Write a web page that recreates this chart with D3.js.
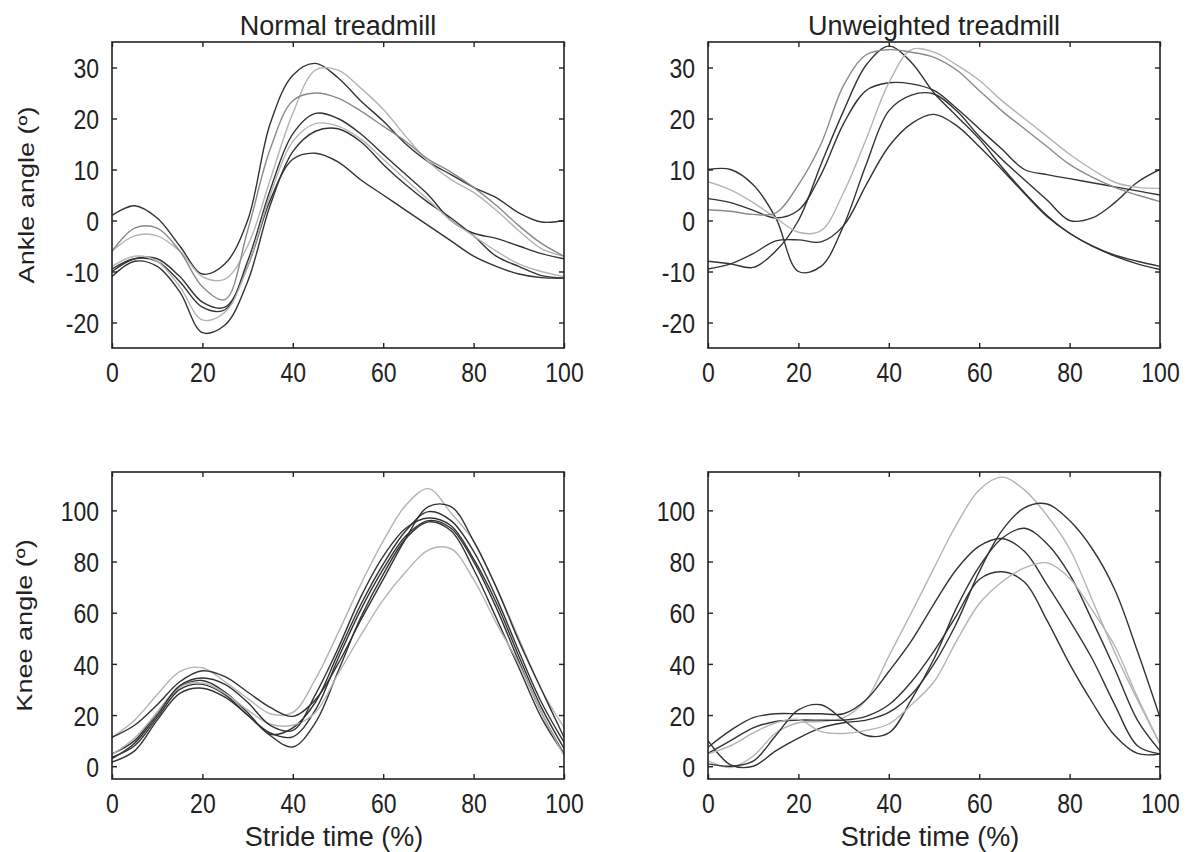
<!DOCTYPE html>
<html>
<head>
<meta charset="utf-8">
<script src="https://cdn.jsdelivr.net/npm/d3@7"></script>
<style>
  body { margin: 0; background: #fff; }
  svg { display: block; }
</style>
</head>
<body>
<div id="chart"></div>
<script>
// stride time samples (%), every 5 %
var stride = [0, 5, 10, 15, 20, 25, 30, 35, 40, 45, 50, 55, 60, 65, 70, 75, 80, 85, 90, 95, 100];
var strideTicks = [0, 20, 40, 60, 80, 100];
var ankleTicks = [-20, -10, 0, 10, 20, 30];
var kneeTicks = [0, 20, 40, 60, 80, 100];

var titles = ["Normal treadmill", "Unweighted treadmill"];
var yLabels = ["Ankle angle (\u00ba)", "Knee angle (\u00ba)"];
var xLabel = "Stride time (%)";

// Normal treadmill - ankle angle, one array per subject
var normalAnkle = [
  [1, 2.9, 0.5, -5, -10.5, -8.5, 0, 19, 28.5, 30.8, 28, 23.5, 19.5, 15, 11.5, 9, 6.5, 4.5, 1.5, -0.3, 0],
  [-6, -3, -3, -6, -11, -11.5, -5, 8, 21, 29.5, 29.5, 26, 21.8, 16.5, 11.5, 8, 5.5, 2, -2, -5.5, -7],
  [-6, -1.5, -1.5, -6, -13, -15.5, -2, 14, 23.5, 25, 24, 21.5, 18.5, 15.5, 12, 9.5, 6.5, 3, -1, -4.5, -7],
  [-9.5, -7.5, -8, -12, -17, -17.5, -8, 6, 17, 21, 20, 17, 13, 9, 5, 0, -2.5, -3.5, -5, -6.5, -7.5],
  [-11, -8, -9, -14, -22, -20.5, -12, 3, 13.5, 17.5, 18, 15.5, 11, 7, 3.5, 0.5, -3, -7, -9, -10.8, -11.3],
  [-10, -7.5, -7.5, -11, -16, -17, -9, 4, 12, 13.2, 11.5, 8, 5, 2, -1, -4, -7, -9, -10.5, -11.2, -11.3],
  [-9, -7, -8, -13, -19.5, -18, -9, 5, 15.5, 19, 18.5, 16, 12, 8, 4, 0, -3, -6, -8.5, -10, -11]
];
var normalAnkleTone = ["dark", "light", "mid", "dark", "dark", "dark", "light"];

// Unweighted treadmill - ankle angle
var unweightedAnkle = [
  [10, 10, 7, 0.5, -10, -9, -1, 11, 21.5, 24.6, 24.8, 21.5, 16.5, 12, 8, 4, 0, 0.5, 3.5, 7.5, 10],
  [-8, -8.5, -9.2, -6, 0, 11, 21.5, 30.5, 34.2, 31, 25, 20.5, 16, 10.5, 5.5, 1, -2.5, -5, -7, -8.5, -9.6],
  [4.3, 3.5, 2, 0.5, 2, 9, 19, 25.5, 27, 26.8, 25.5, 22, 18, 14, 10, 9, 8.2, 7.4, 6.6, 5.8, 5],
  [7.6, 6, 3.5, 0.5, -2.3, -2, 5.5, 16, 27, 33.5, 33, 30.5, 27.5, 23.5, 20, 16.5, 13, 10, 7.5, 6.5, 6.3],
  [2.1, 1.8, 1.2, 1.5, 7, 15, 26.5, 32.5, 33.5, 33, 32, 29.5, 25.5, 21.5, 18, 14.5, 11, 8.5, 6.5, 5, 3.7],
  [-9.5, -8.5, -6.5, -4, -3.8, -4.2, -1, 7, 14.5, 19, 20.8, 18.6, 14.5, 10, 5.3, 0.8, -2.5, -5, -6.8, -8, -9]
];
var unweightedAnkleTone = ["dark", "dark", "dark", "light", "mid", "dark"];

// Normal treadmill - knee angle
var normalKnee = [
  [11.3, 18, 28, 37, 38.5, 33, 26.5, 20.5, 21, 34, 52, 71, 88, 102, 108.5, 99, 88, 70, 50, 30, 15.2],
  [11.3, 16, 24, 33, 37.3, 35, 29, 23, 19.5, 26, 40, 57, 73, 89, 101.5, 101.5, 88, 70, 49, 30, 11.3],
  [4.8, 10, 21, 31, 33.5, 29, 21, 12.5, 15, 25, 44, 63, 79, 92, 99.5, 96, 84, 66, 45, 25, 9.4],
  [3.5, 8, 19, 30, 32, 28, 20, 13, 11.5, 22, 42, 61, 77, 90, 96, 93, 80, 62, 41, 21, 4.8],
  [1.6, 6, 18, 28.5, 30.5, 27, 20, 12, 7.5, 17, 37, 58, 75, 89, 95.5, 92, 77, 58, 38.6, 19, 4.8],
  [4.5, 11, 21, 31, 32.5, 28.5, 22, 16.5, 16, 21, 36, 51, 65, 76, 84.5, 85, 73, 56, 40, 21, 4.2],
  [3, 9, 20, 31.5, 34.5, 32, 25, 16, 14, 28, 46, 66, 82, 93, 97, 94, 81, 64, 43, 23, 7]
];
var normalKneeTone = ["light", "dark", "dark", "dark", "dark", "light", "dark"];

// Unweighted treadmill - knee angle
var unweightedKnee = [
  [2.2, -0.5, 4, 13, 17, 17.5, 19, 26, 43, 60, 77.5, 94.5, 108, 113, 108, 98, 85, 65, 44.5, 26, 8.7],
  [7.4, 14, 19, 20.5, 20.5, 20.5, 20.5, 26, 37, 49, 63.5, 77, 86, 89, 84, 71, 57, 42, 24, 8, 4.8],
  [5, 10, 15, 17.5, 18, 18, 18, 19.5, 24, 33, 45, 59, 73, 76, 72, 57, 40, 25, 12, 5, 4.8],
  [0.9, 0, 2, 12, 22, 24, 18, 12, 13, 26, 42, 62, 78, 89, 93, 87, 75, 57, 38, 18, 6],
  [10, 0.5, 0, 6, 11, 15, 17, 18, 21, 28, 40, 56, 76, 92, 101, 102.5, 96, 85, 69, 45, 19],
  [4.8, 8, 13, 17, 18.3, 13.5, 12.8, 14, 16.5, 24, 33, 49, 63.5, 72, 77.5, 79.5, 73.5, 61, 47, 27, 8.7]
];
var unweightedKneeTone = ["light", "dark", "dark", "dark", "dark", "light"];

var svgWidth = 1190;
var svgHeight = 852;

var toneColor = { dark: "#333333", mid: "#8a8a8a", light: "#b4b4b4" };
var cols = [{ left: 112, right: 564 }, { left: 708, right: 1160 }];
var rows = [{ top: 42, bottom: 348 }, { top: 472, bottom: 779 }];

var textFont = "'Liberation Sans', Arial, sans-serif";
var stretch = 1.23; // glyphs in the figure are drawn taller than wide

var svg = d3.select("#chart")
  .append("svg")
  .attr("width", svgWidth)
  .attr("height", svgHeight);

svg.append("rect")
  .attr("width", svgWidth)
  .attr("height", svgHeight)
  .attr("fill", "#fff");

var panels = [
  { row: 0, col: 0, data: normalAnkle, tone: normalAnkleTone, domain: [-25, 35], ticks: ankleTicks },
  { row: 0, col: 1, data: unweightedAnkle, tone: unweightedAnkleTone, domain: [-25, 35], ticks: ankleTicks },
  { row: 1, col: 0, data: normalKnee, tone: normalKneeTone, domain: [-5, 115], ticks: kneeTicks },
  { row: 1, col: 1, data: unweightedKnee, tone: unweightedKneeTone, domain: [-5, 115], ticks: kneeTicks }
];

panels.forEach(function(p, i) {
  var c = cols[p.col], r = rows[p.row];
  var w = c.right - c.left, h = r.bottom - r.top;

  var xScale = d3.scaleLinear().domain([0, 100]).range([0, w]);
  var yScale = d3.scaleLinear().domain(p.domain).range([h, 0]);

  var g = svg.append("g")
    .attr("transform", `translate(${c.left}, ${r.top})`);

  g.append("clipPath")
    .attr("id", "clip" + i)
    .append("rect")
    .attr("width", w)
    .attr("height", h);

  // curves
  var line = d3.line()
    .x(function(d, k) { return xScale(stride[k]); })
    .y(function(d) { return yScale(d); })
    .curve(d3.curveCatmullRom.alpha(0.5));

  g.append("g")
    .attr("clip-path", "url(#clip" + i + ")")
    .selectAll("path")
    .data(p.data)
    .enter()
    .append("path")
    .attr("d", line)
    .attr("fill", "none")
    .attr("stroke", function(d, k) { return toneColor[p.tone[k]]; })
    .attr("stroke-width", 1.4)
    .attr("stroke-linejoin", "round");

  // axes, ticks pointing inward on all four sides
  var plain = function(d) { return String(d); }; // hyphen minus, like the figure
  var bottomAxis = g.append("g")
    .attr("transform", `translate(0, ${h})`)
    .call(d3.axisBottom(xScale).tickValues(strideTicks).tickSize(-5).tickFormat(plain));
  var leftAxis = g.append("g")
    .call(d3.axisLeft(yScale).tickValues(p.ticks).tickSize(-5).tickFormat(plain));
  var topAxis = g.append("g")
    .call(d3.axisTop(xScale).tickValues(strideTicks).tickSize(-5).tickFormat(""));
  var rightAxis = g.append("g")
    .attr("transform", `translate(${w}, 0)`)
    .call(d3.axisRight(yScale).tickValues(p.ticks).tickSize(-5).tickFormat(""));

  [bottomAxis, leftAxis, topAxis, rightAxis].forEach(function(ax) {
    ax.select(".domain").remove();
    ax.selectAll(".tick line").attr("stroke", "#222").attr("stroke-width", 1.4);
    ax.selectAll(".tick text")
      .attr("fill", "#222")
      .style("font-family", textFont)
      .style("font-size", "23px");
  });

  bottomAxis.selectAll(".tick text")
    .attr("y", 0)
    .attr("dy", null)
    .attr("transform", `translate(0, 34) scale(1, ${stretch})`);

  leftAxis.selectAll(".tick text")
    .attr("x", 0)
    .attr("dy", "0.36em")
    .attr("transform", `translate(-13, 0) scale(1, ${stretch})`);

  g.append("rect")
    .attr("width", w)
    .attr("height", h)
    .attr("fill", "none")
    .attr("stroke", "#222")
    .attr("stroke-width", 1.6);

  if (p.row === 0) {
    svg.append("text")
      .attr("x", (c.left + c.right) / 2)
      .attr("y", 35)
      .attr("text-anchor", "middle")
      .attr("fill", "#222")
      .style("font-family", textFont)
      .style("font-size", "27px")
      .text(titles[p.col]);
  } else {
    svg.append("text")
      .attr("x", (c.left + c.right) / 2 - 4)
      .attr("y", 846)
      .attr("text-anchor", "middle")
      .attr("fill", "#222")
      .style("font-family", textFont)
      .style("font-size", "27px")
      .text(xLabel);
  }

  if (p.col === 0) {
    svg.append("text")
      .attr("transform", `translate(${p.row === 0 ? 34 : 32}, ${(r.top + r.bottom) / 2}) rotate(-90) scale(${stretch}, 1)`)
      .attr("text-anchor", "middle")
      .attr("fill", "#222")
      .style("font-family", textFont)
      .style("font-size", "22px")
      .text(yLabels[p.row]);
  }
});
</script>
</body>
</html>
